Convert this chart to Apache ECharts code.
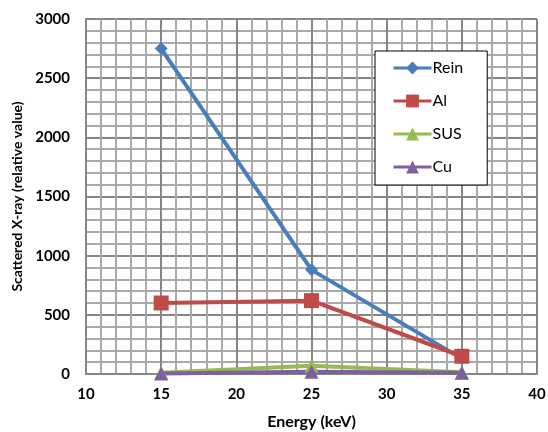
<!DOCTYPE html>
<html><head><meta charset="utf-8">
<script src="https://cdn.jsdelivr.net/npm/echarts@6/dist/echarts.min.js"></script>
<style>html,body{margin:0;padding:0;background:#fff}#c{width:548px;height:432px}</style>
</head><body><div id="c"></div>
<script>
const energies = [15, 25, 35];
const rein = [2750, 880, 130];
const al = [600, 620, 150];
const sus = [10, 70, 15];
const cu = [5, 20, 10];
const seriesNames = ['Rein', 'Al', 'SUS', 'Cu'];
const colors = ['#4a7ebb', '#be4b48', '#98b954', '#7d60a0'];
const symbols = ['diamond', 'rect', 'triangle', 'triangle'];
const symbolSizes = [13, 15, 14, 14];
const values = [rein, al, sus, cu];

const font = 'Lato, "Open Sans", sans-serif';
const chart = echarts.init(document.getElementById('c'));
chart.setOption({
  animation: false,
  grid: {left: 86, right: 11, top: 19, bottom: 58, outerBoundsMode: 'none', containLabel: false},
  legend: {
    orient: 'vertical', left: 375, top: 51,
    backgroundColor: '#fff', borderColor: '#000', borderWidth: 1,
    padding: [9, 24, 10, 17], itemGap: 17, itemWidth: 38, itemHeight: 16,
    lineStyle: {width: 3},
    textStyle: {fontFamily: font, fontSize: 16, color: '#000', padding: [0, 0, 0, -4]},
    data: seriesNames
  },
  xAxis: {
    type: 'value', min: 10, max: 40, interval: 5,
    name: 'Energy (keV)', nameLocation: 'middle', nameGap: 40,
    nameTextStyle: {fontFamily: font, fontSize: 16, fontWeight: 'bold', color: '#000'},
    axisLabel: {fontFamily: font, fontSize: 15, fontWeight: 'bold', color: '#000', margin: 13},
    axisLine: {show: true, lineStyle: {color: '#868686', width: 2}},
    axisTick: {show: false},
    splitLine: {show: true, lineStyle: {color: '#868686', width: 2}},
    minorTick: {show: false, splitNumber: 5},
    minorSplitLine: {show: true, lineStyle: {color: '#a9a9a9', width: 2}}
  },
  yAxis: {
    type: 'value', min: 0, max: 3000, interval: 500,
    name: 'Scattered X-ray (relative value)', nameLocation: 'middle', nameGap: 62,
    nameTextStyle: {fontFamily: font, fontSize: 14, fontWeight: 'bold', color: '#000'},
    axisLabel: {fontFamily: font, fontSize: 15, fontWeight: 'bold', color: '#000', margin: 16,
      formatter: v => String(v)},
    axisLine: {show: true, lineStyle: {color: '#868686', width: 2}},
    axisTick: {show: false},
    splitLine: {show: true, lineStyle: {color: '#868686', width: 2}},
    minorTick: {show: false, splitNumber: 5},
    minorSplitLine: {show: true, lineStyle: {color: '#a9a9a9', width: 2}}
  },
  series: seriesNames.map((n, i) => ({
    name: n, type: 'line',
    data: energies.map((e, j) => [e, values[i][j]]),
    symbol: symbols[i], symbolSize: symbolSizes[i],
    color: colors[i],
    lineStyle: {width: 4, color: colors[i]},
    itemStyle: {color: colors[i]}
  }))
});
</script></body></html>
